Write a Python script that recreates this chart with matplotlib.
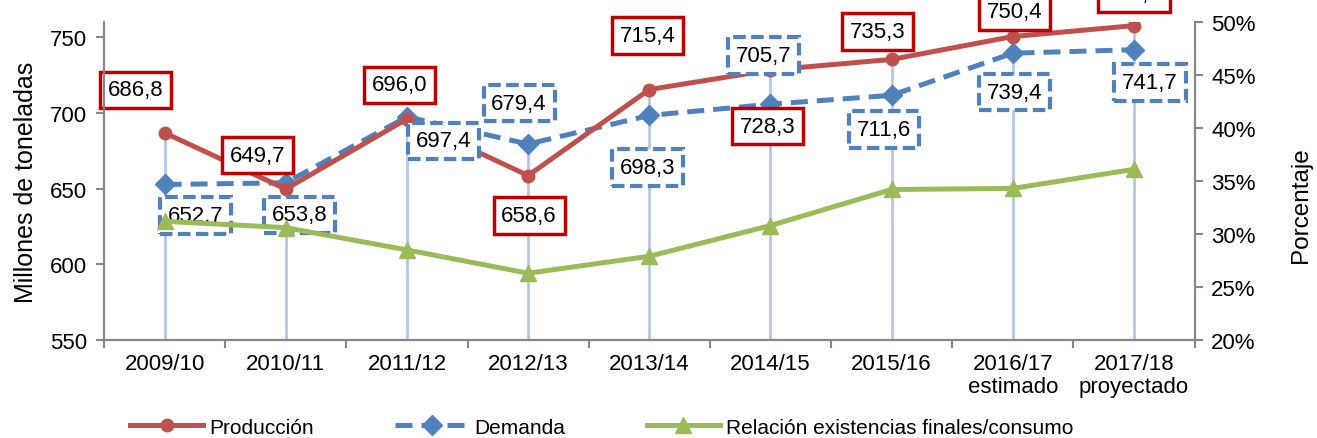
import matplotlib.pyplot as plt
import numpy as np

plt.rcParams["font.family"] = ["Liberation Sans", "DejaVu Sans"]

campanas = ['2009/10', '2010/11', '2011/12', '2012/13', '2013/14', '2014/15',
            '2015/16', '2016/17\nestimado', '2017/18\nproyectado']
produccion = [686.8, 649.7, 696.0, 658.6, 715.4, 728.3, 735.3, 750.4, 757.6]
demanda = [652.7, 653.8, 697.4, 679.4, 698.3, 705.7, 711.6, 739.4, 741.7]
relacion = [31.2, 30.6, 28.5, 26.3, 27.9, 30.8, 34.2, 34.3, 36.1]

# desplazamiento de las etiquetas (pixeles)
off_prod = [(-29, 43), (-28, 34), (-7, 34), (1, -40), (-2, 54),
            (-3, -56), (-14, 28), (2, 25), (0, 32)]
off_dem = [(31, -31), (14, -32), (37, -24), (-9, 41), (-2, -52),
           (-7, 49), (-8, -34), (2, -39), (16, -33)]

rojo = '#C0504D'
azul = '#4F81BD'
verde = '#9BBB59'
gris = '#868686'
fs = 15

fig = plt.figure(figsize=(13.17, 4.39), dpi=100)
ax = fig.add_axes([0.079, 0.2232, 0.828, 0.7244])
ax2 = ax.twinx()

x = np.arange(len(campanas))
tope = np.maximum(produccion, demanda)
ax.vlines(x, 550, tope, color='#B4C7E7', lw=2, zorder=1)

l1, = ax.plot(x, produccion, color=rojo, lw=3.6, marker='o', ms=9, zorder=4,
              label='Producción')
l2, = ax.plot(x, demanda, color=azul, lw=3.6, ls=(0, (3.4, 1.8)), marker='D',
              ms=10, zorder=3, label='Demanda')
l3, = ax2.plot(x, relacion, color=verde, lw=3.6, marker='^', ms=12, zorder=3,
               label='Relación existencias finales/consumo')

for i in range(len(x)):
    ax.annotate(f'{produccion[i]:.1f}'.replace('.', ','), (x[i], produccion[i]),
                xytext=off_prod[i], textcoords='offset pixels', ha='center',
                va='center', fontsize=fs + 1, zorder=6, annotation_clip=False,
                bbox=dict(boxstyle='square,pad=0.35', fc='white', ec='#C00000', lw=2.5))
    ax.annotate(f'{demanda[i]:.1f}'.replace('.', ','), (x[i], demanda[i]),
                xytext=off_dem[i], textcoords='offset pixels', ha='center',
                va='center', fontsize=fs + 1, zorder=6, annotation_clip=False,
                bbox=dict(boxstyle='square,pad=0.35', fc='white', ec=azul, lw=3,
                          ls=(0, (3, 1.3))))

ax.set_xlim(-0.5, len(x) - 0.5)
ax.set_ylim(550, 760)
ax.set_yticks(range(550, 751, 50))
ax2.set_ylim(20, 50)
ax2.set_yticks(range(20, 51, 5))
ax2.set_yticklabels([f'{v}%' for v in range(20, 51, 5)])

ax.set_xticks(x)
ax.set_xticklabels(campanas, linespacing=1.15)
ax.set_xticks(np.arange(-0.5, len(x), 1), minor=True)
ax.tick_params(axis='x', which='major', length=0, pad=9, labelsize=fs + 1)
ax.tick_params(axis='x', which='minor', length=6, color=gris, width=1.5)
ax.tick_params(axis='y', length=6, color=gris, width=1.5, labelsize=fs + 1, pad=6)
ax2.tick_params(axis='y', length=6, color=gris, width=1.5, labelsize=fs + 1, pad=6)

for a in (ax, ax2):
    a.spines['top'].set_visible(False)
    for s in ('left', 'right', 'bottom'):
        a.spines[s].set_color(gris)
        a.spines[s].set_linewidth(1.5)

ax.set_ylabel('Millones de toneladas', fontsize=18, labelpad=9)
ax2.set_ylabel('Porcentaje', fontsize=17.5)
ax2.yaxis.set_label_coords(1.088, 0.428)

fig.legend(handles=[l1, l2, l3], loc='center', bbox_to_anchor=(0.457, 0.025),
           ncol=3, frameon=False, fontsize=fs, handlelength=3.5,
           columnspacing=3.9, handletextpad=0.3)

fig.savefig('out.png', dpi=100)
